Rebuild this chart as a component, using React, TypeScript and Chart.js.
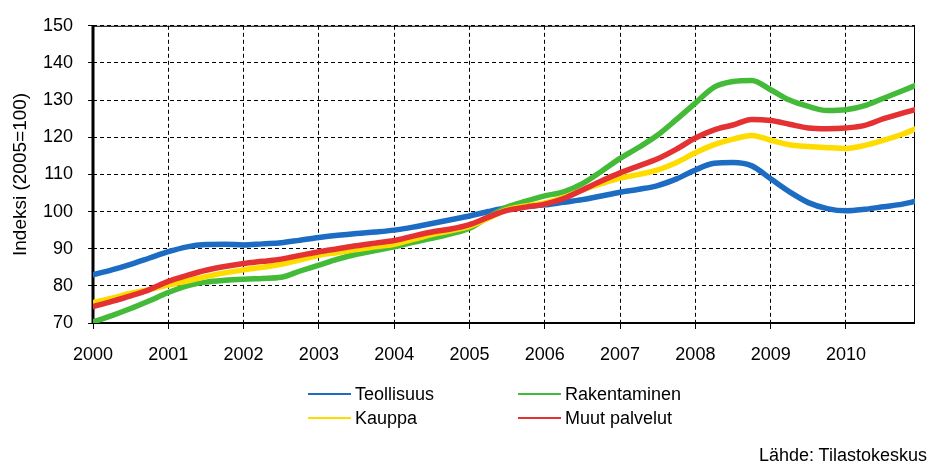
import React, { useEffect, useRef } from 'react';
import { Chart, registerables } from 'chart.js';

Chart.register(...registerables);

// Month index since Jan 2000
const MONTHS = [0, 3, 6, 9, 12, 15, 18, 21, 24, 27, 30, 33, 36, 39, 42, 45, 48, 51, 54, 57, 60, 63, 66, 69, 72, 75, 78, 81, 84, 87, 90, 93, 96, 99, 102, 105, 108, 111, 114, 117, 120, 123, 126, 129, 131];
const YEAR_TICKS = [0, 12, 24, 36, 48, 60, 72, 84, 96, 108, 120];
const YEAR_LABELS = ['2000', '2001', '2002', '2003', '2004', '2005', '2006', '2007', '2008', '2009', '2010'];
const Y_TICKS = [70, 80, 90, 100, 110, 120, 130, 140, 150];

const TEOLLISUUS = [83.0, 84.3, 85.8, 87.5, 89.2, 90.5, 91.1, 91.2, 91.0, 91.3, 91.6, 92.3, 93.0, 93.6, 94.1, 94.5, 95.0, 95.8, 96.8, 97.8, 98.8, 100.0, 101.0, 101.4, 101.8, 102.5, 103.2, 104.2, 105.2, 106.0, 107.0, 108.8, 111.2, 113.0, 113.2, 112.3, 108.8, 105.3, 102.4, 100.8, 100.2, 100.6, 101.3, 102.0, 102.7];
const RAKENTAMINEN = [70.3, 72.0, 73.9, 76.0, 78.2, 80.0, 81.0, 81.5, 81.8, 82.0, 82.3, 84.0, 85.6, 87.2, 88.5, 89.5, 90.5, 91.7, 92.8, 94.0, 95.5, 98.5, 101.2, 102.8, 104.2, 105.3, 107.5, 110.8, 114.3, 117.3, 120.6, 124.8, 129.2, 133.5, 135.0, 135.3, 132.8, 130.0, 128.3, 127.2, 127.4, 128.5, 130.5, 132.5, 133.9];
const KAUPPA = [75.5, 76.7, 78.0, 79.0, 80.2, 81.3, 82.5, 83.5, 84.3, 85.0, 85.8, 87.0, 88.2, 89.0, 89.8, 90.5, 91.2, 92.5, 93.8, 94.8, 96.0, 98.2, 100.5, 101.5, 102.3, 103.8, 105.8, 107.5, 109.0, 110.0, 111.2, 113.2, 115.8, 118.0, 119.5, 120.5, 119.2, 118.0, 117.5, 117.2, 117.0, 117.8, 119.2, 120.8, 122.2];
const MUUT_PALVELUT = [74.4, 75.8, 77.3, 79.0, 81.2, 82.8, 84.2, 85.2, 86.0, 86.6, 87.2, 88.2, 89.2, 90.0, 90.8, 91.5, 92.2, 93.4, 94.5, 95.3, 96.5, 98.5, 100.3, 101.2, 102.0, 103.5, 105.8, 108.2, 110.4, 112.3, 114.2, 116.8, 119.8, 122.0, 123.3, 124.8, 124.5, 123.5, 122.5, 122.3, 122.5, 123.2, 125.0, 126.5, 127.4];

const SERIES_NAMES = ['Teollisuus', 'Rakentaminen', 'Kauppa', 'Muut palvelut'];
const COLORS = ['#1c6cc4', '#44bb38', '#ffdc00', '#e43232'];

const FONT = "'Liberation Sans', Arial, sans-serif";

const framePlugin = {
  id: 'frame',
  beforeDatasetsDraw(chart: any) {
    const { ctx, chartArea } = chart;
    const { left, right, top, bottom } = chartArea;
    ctx.save();
    ctx.setLineDash([]);
    ctx.strokeStyle = '#000';
    ctx.lineWidth = 1;
    ctx.beginPath();
    ctx.moveTo(left, top + 0.5);
    ctx.lineTo(right, top + 0.5);
    ctx.moveTo(right - 0.5, top);
    ctx.lineTo(right - 0.5, bottom);
    ctx.stroke();
    ctx.lineWidth = 2;
    ctx.beginPath();
    ctx.moveTo(left, bottom);
    ctx.lineTo(right, bottom);
    ctx.stroke();
    ctx.lineWidth = 3;
    ctx.beginPath();
    ctx.moveTo(left, top);
    ctx.lineTo(left, bottom + 1);
    ctx.stroke();
    ctx.restore();
  },
};

export default function App() {
  const canvasRef = useRef<HTMLCanvasElement>(null);

  useEffect(() => {
    const canvas = canvasRef.current;
    if (!canvas) return;
    const seriesValues = [TEOLLISUUS, RAKENTAMINEN, KAUPPA, MUUT_PALVELUT];
    const orders = [4, 3, 2, 1];
    const chart = new Chart(canvas, {
      type: 'line',
      data: {
        datasets: seriesValues.map((vals, i) => ({
          label: SERIES_NAMES[i],
          data: MONTHS.map((m, j) => ({ x: m, y: vals[j] })),
          borderColor: COLORS[i],
          backgroundColor: COLORS[i],
          borderWidth: 5.5,
          pointRadius: 0,
          cubicInterpolationMode: 'monotone' as const,
          borderCapStyle: 'round' as const,
          borderJoinStyle: 'round' as const,
          order: orders[i],
        })),
      },
      options: {
        animation: false,
        responsive: false,
        maintainAspectRatio: false,
        layout: { padding: { left: 0, right: 15, top: 15, bottom: 99 } },
        plugins: {
          legend: { display: false },
          tooltip: { enabled: false },
        },
        scales: {
          x: {
            type: 'linear',
            min: 0,
            max: 131,
            afterBuildTicks: (scale: any) => {
              scale.ticks = YEAR_TICKS.map((v) => ({ value: v }));
            },
            afterFit: (scale: any) => {
              scale.height = 50;
            },
            ticks: {
              autoSkip: false,
              maxRotation: 0,
              padding: 15,
              color: '#000',
              font: { family: FONT, size: 18 },
              callback: (value: any) => {
                const idx = YEAR_TICKS.indexOf(Number(value));
                return idx >= 0 ? YEAR_LABELS[idx] : '';
              },
            },
            grid: {
              color: '#000',
              lineWidth: 1,
              tickLength: 6,
              tickColor: '#000',
              tickWidth: 1,
            },
            border: { display: false, dash: [4, 3] },
          },
          y: {
            type: 'linear',
            min: 70,
            max: 150,
            afterBuildTicks: (scale: any) => {
              scale.ticks = Y_TICKS.map((v) => ({ value: v }));
            },
            afterFit: (scale: any) => {
              scale.width = 93;
            },
            title: {
              display: true,
              text: 'Indeksi (2005=100)',
              color: '#000',
              font: { family: FONT, size: 19 },
              padding: { top: 9, bottom: 0 },
            },
            ticks: {
              padding: 15,
              color: '#000',
              font: { family: FONT, size: 18 },
              callback: (value: any) => String(value),
            },
            grid: {
              color: '#000',
              lineWidth: 1,
              tickLength: 5,
              tickColor: '#000',
              tickWidth: 1,
            },
            border: { display: false, dash: [4, 3] },
          },
        },
      },
      plugins: [framePlugin],
    });
    return () => chart.destroy();
  }, []);

  const legendItems = [
    { name: SERIES_NAMES[0], color: COLORS[0], x: 308, y: 394 },
    { name: SERIES_NAMES[1], color: COLORS[1], x: 518, y: 394 },
    { name: SERIES_NAMES[2], color: COLORS[2], x: 308, y: 418 },
    { name: SERIES_NAMES[3], color: COLORS[3], x: 518, y: 418 },
  ];

  return (
    <div style={{ position: 'absolute', left: 0, top: 0, width: 930, height: 472, background: '#fff', fontFamily: FONT }}>
      <canvas ref={canvasRef} width={930} height={472} style={{ display: 'block', width: 930, height: 472 }} />
      {legendItems.map((it) => (
        <div key={it.name} style={{ position: 'absolute', left: it.x, top: it.y - 10, height: 20, display: 'flex', alignItems: 'center' }}>
          <div style={{ width: 43, height: 2, background: it.color }} />
          <span style={{ marginLeft: 4, fontSize: 18, lineHeight: '20px', color: '#000', whiteSpace: 'nowrap' }}>{it.name}</span>
        </div>
      ))}
      <div style={{ position: 'absolute', right: 3, top: 445, fontSize: 18, lineHeight: '20px', color: '#000', whiteSpace: 'nowrap' }}>
        Lähde: Tilastokeskus
      </div>
    </div>
  );
}
